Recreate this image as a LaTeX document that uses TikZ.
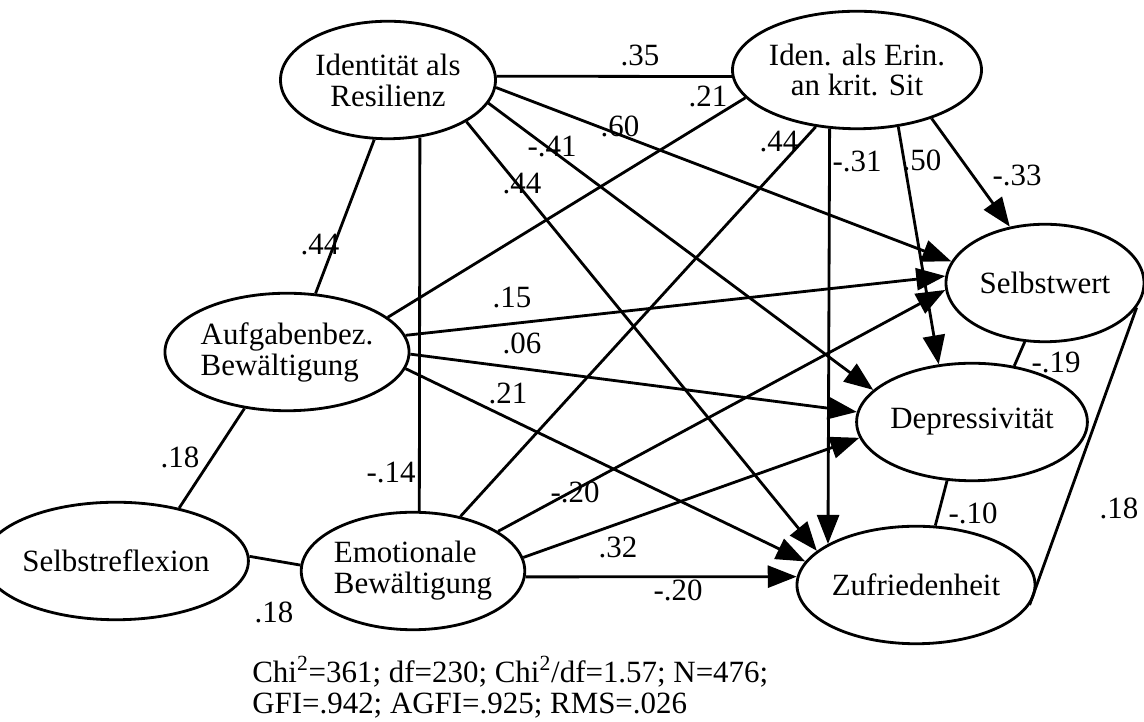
\documentclass[tikz,border=0pt]{standalone}
\usepackage{fontspec}
\setmainfont{Liberation Serif}
\usepackage{tikz}
\usetikzlibrary{shapes.geometric,arrows.meta}

\begin{document}
\begin{tikzpicture}[font=\fontsize{17.6}{17.6}\selectfont,
		latent/.style={draw,ellipse,ultra thick,inner sep=0pt,minimum width=4.3cm,minimum height=2.35cm,align=center},
		corr/.style={ultra thick},
		effect/.style={ultra thick,-{Triangle[length=0.58cm,width=0.44cm]}}]
			\useasboundingbox (0,0) rectangle (22.88,14.44);
			\node[latent] (ir)at(7.76,12.84) {Identität als\\Resilienz};
			\node[latent] (ie)at(17.14,13.04) {Iden. als Erin.\\an krit. Sit};
			\node[latent,minimum width=3.96cm] (sw)at(20.90,8.78) {Selbstwert};
			\node[latent] (dp)at(19.44,6.00) {Depressivität};
			\node[latent] (zf)at(18.32,2.74) {Zufriedenheit};
			\node[latent,align=left] (ab)at(5.74,7.40) {Aufgabenbez.\\Bewältigung};
			\node[latent] (sr)at(2.32,3.22) {Selbstreflexion};
			\node[latent,align=left] (eb)at(8.26,3.02) {Emotionale\\Bewältigung};
			
			\draw[corr] (ir.2) -- (ie.183);
			\draw[corr] (ir.-103) -- (ab.64);
			\draw[corr] (ir.-61) -- (eb.84);
			\draw[effect] (ir.-4) -- (sw.167);
			\draw[effect] (ir.-13) -- (dp.162);
			\draw[effect] (ir.-28) -- (zf.161);
			\draw[corr] (ie.194) -- (ab.19);
			\draw[corr] (ie.234) -- (eb.49);
			\draw[effect] (ie.245) -- (zf.155);
			\draw[effect] (ie.-54) -- (dp.120);
			\draw[effect] (ie.-33) -- (sw.122);
			\draw[effect] (ab.8) -- (sw.176);
			\draw[effect] (ab.-1) -- (dp.175);
			\draw[effect] (ab.-8) -- (zf.168);
			\draw[corr] (ab.-127) -- (sr.40);
			\draw[corr] (sr.2) -- (eb.177);
			\draw[effect] (eb.25) -- (sw.184);
			\draw[effect] (eb.7) -- (dp.188);
			\draw[effect] (eb.-3) -- (zf.176);
			\draw[corr] (sw.-109) -- (dp.53);
			\draw[corr] (dp.-113) -- (zf.72);
			\draw[corr] (sw.-15) -- (zf.-10);
			
			\node (l35)at(12.80,13.34) {.35};
			\node (l21a)at(14.16,12.52) {.21};
			\node (l60)at(12.40,11.92) {.60};
			\node (l41)at(11.04,11.50) {-.41};
			\node (l44a)at(10.44,10.76) {.44};
			\node (l44b)at(15.58,11.60) {.44};
			\node (l31)at(17.14,11.22) {-.31};
			\node (l50)at(18.44,11.24) {.50};
			\node (l33)at(20.34,10.94) {-.33};
			\node (l44c)at(6.40,9.54) {.44};
			\node (l15)at(10.24,8.48) {.15};
			\node (l06)at(10.44,7.58) {.06};
			\node (l21b)at(10.16,6.58) {.21};
			\node (l18a)at(3.60,5.30) {.18};
			\node (l14)at(7.82,4.98) {-.14};
			\node (l20a)at(11.50,4.60) {-.20};
			\node (l32)at(12.36,3.50) {.32};
			\node (l20b)at(13.56,2.64) {-.20};
			\node (l18b)at(5.48,2.20) {.18};
			\node (l19)at(21.12,7.20) {-.19};
			\node (l10)at(19.46,4.18) {-.10};
			\node (l18c)at(22.38,4.28) {.18};
			
			\node[anchor=base west,align=left,inner sep=0pt,font=\fontsize{17.6}{18.2}\selectfont] (fit)at(5.04,0.16) {Chi\textsuperscript{2}=361; df=230; Chi\textsuperscript{2}/df=1.57; N=476;\\GFI=.942; AGFI=.925; RMS=.026};
		\end{tikzpicture}
\end{document}
